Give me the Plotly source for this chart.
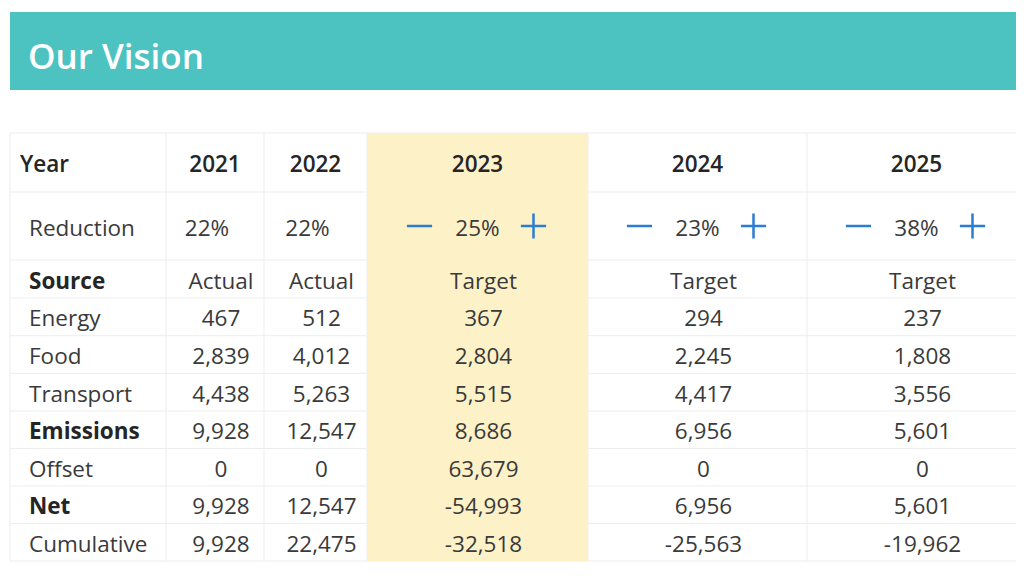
import plotly.graph_objects as go

# ---------------- data ----------------
title = "Our Vision"
years = [2021, 2022, 2023, 2024, 2025]
reduction = [22, 22, 25, 23, 38]
adjustable = [False, False, True, True, True]
source = ["Actual", "Actual", "Target", "Target", "Target"]
row_labels = ["Energy", "Food", "Transport", "Emissions", "Offset", "Net", "Cumulative"]
bold_rows = ["Emissions", "Net"]
energy = [467, 512, 367, 294, 237]
food = [2839, 4012, 2804, 2245, 1808]
transport = [4438, 5263, 5515, 4417, 3556]
emissions = [9928, 12547, 8686, 6956, 5601]
offset = [0, 0, 63679, 0, 0]
net = [9928, 12547, -54993, 6956, 5601]
cumulative = [9928, 22475, -32518, -25563, -19962]
highlight_year = 2023

# ---------------- layout geometry (pixels) ----------------
W, H = 1024, 586
PAGE_OFF = 8  # page body margin of the html page
col_edges = [10, 166, 264, 367, 588, 807, 1026]
row_edges = [133, 192, 260, 298, 335.7, 373.3, 411, 448.5, 486, 523.5, 561]
TY = 4  # text baseline correction
FONT = "Open Sans"
FS = 22.5
TXT = "#3a3a3a"
DARK = "#252525"
GRID = "#EDEDED"
TEAL = "#4CC2C1"
YELLOW = "#FDF1C8"
BLUE = "#2B7CD3"

body = [energy, food, transport, emissions, offset, net, cumulative]

def ccenter(i):
    return (col_edges[i] + col_edges[i + 1]) / 2

def rcenter(j):
    return (row_edges[j] + row_edges[j + 1]) / 2

fig = go.Figure()
shapes = []

# title bar
shapes.append(dict(type="rect", xref="x", yref="y", x0=10, x1=W + 20, y0=12, y1=90,
                   fillcolor=TEAL, line=dict(width=0), layer="below"))
# grid lines
for y in row_edges:
    shapes.append(dict(type="line", xref="x", yref="y", x0=col_edges[0], x1=W + 20, y0=y, y1=y,
                       line=dict(color=GRID, width=1), layer="below"))
for x in col_edges:
    shapes.append(dict(type="line", xref="x", yref="y", x0=x, x1=x, y0=row_edges[0], y1=row_edges[-1],
                       line=dict(color=GRID, width=1), layer="below"))
# highlighted column
hi = years.index(highlight_year) + 1
shapes.append(dict(type="rect", xref="x", yref="y", x0=col_edges[hi], x1=col_edges[hi + 1],
                   y0=row_edges[0], y1=row_edges[-1], fillcolor=YELLOW, line=dict(width=0),
                   layer="below"))

def text_trace(xs, ys, texts, pos, size=FS, color=TXT, weight=400):
    return go.Scatter(x=xs, y=[y + TY for y in ys], mode="text", text=texts, textposition=pos,
                      textfont=dict(family=FONT, size=size, color=color, weight=weight),
                      hoverinfo="skip", showlegend=False)

# title
fig.add_trace(text_trace([28], [56], [title], "middle right", size=35, color="white", weight=600))

# header row
fig.add_trace(text_trace([20], [rcenter(0)], ["Year"], "middle right", color=DARK, weight=600))
fig.add_trace(text_trace([ccenter(i + 1) for i in range(len(years))], [rcenter(0)] * len(years),
                         [str(y) for y in years], "middle center", color=DARK, weight=600))

# reduction row
fig.add_trace(text_trace([29], [rcenter(1)], ["Reduction"], "middle right"))
red_x = [ccenter(i + 1) + (0 if adjustable[i] else -8) for i in range(len(years))]
fig.add_trace(text_trace(red_x, [rcenter(1)] * len(years), [f"{r}%" for r in reduction], "middle center"))
adj_x = [ccenter(i + 1) for i in range(len(years)) if adjustable[i]]
fig.add_trace(go.Scatter(x=[x - 58 for x in adj_x], y=[rcenter(1)] * len(adj_x), mode="markers",
                         marker=dict(symbol="line-ew", size=18, line=dict(color=BLUE, width=2.5)),
                         hoverinfo="skip", showlegend=False))
fig.add_trace(go.Scatter(x=[x + 56 for x in adj_x], y=[rcenter(1)] * len(adj_x), mode="markers",
                         marker=dict(symbol="cross-thin", size=18, line=dict(color=BLUE, width=2.5)),
                         hoverinfo="skip", showlegend=False))

# source row
fig.add_trace(text_trace([29], [rcenter(2)], ["Source"], "middle right", color=DARK, weight=700))
fig.add_trace(text_trace([ccenter(i + 1) + 6 for i in range(len(years))], [rcenter(2)] * len(years),
                         source, "middle center"))

# body rows
for j, (lab, vals) in enumerate(zip(row_labels, body)):
    yc = rcenter(j + 3)
    isb = lab in bold_rows
    fig.add_trace(text_trace([29], [yc], [lab], "middle right",
                             color=DARK if isb else TXT, weight=700 if isb else 400))
    fig.add_trace(text_trace([ccenter(i + 1) + 6 for i in range(len(vals))], [yc] * len(vals),
                             [f"{v:,}" for v in vals], "middle center"))

fig.update_layout(
    width=W, height=H, margin=dict(l=0, r=0, t=0, b=0),
    paper_bgcolor="white", plot_bgcolor="white",
    xaxis=dict(range=[PAGE_OFF, W + PAGE_OFF], visible=False, fixedrange=True),
    yaxis=dict(range=[H + PAGE_OFF, PAGE_OFF], visible=False, fixedrange=True),
    shapes=shapes,
)
fig.write_html("out.html")
